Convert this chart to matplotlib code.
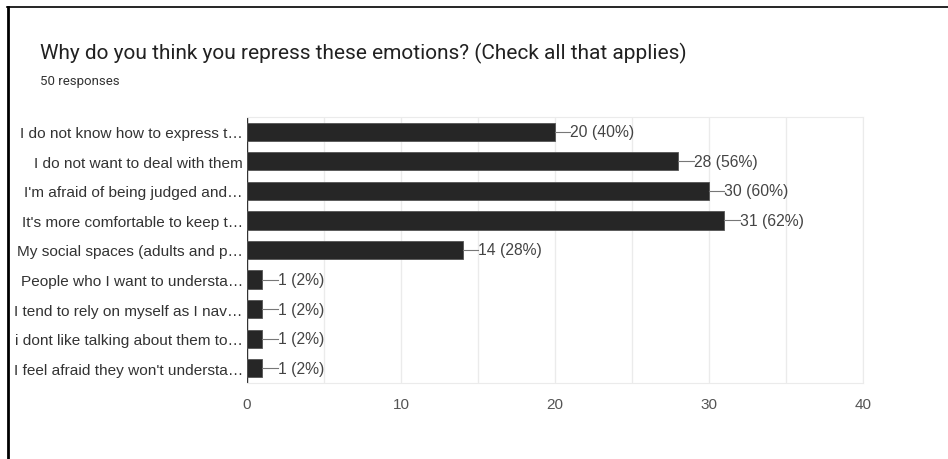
import matplotlib.pyplot as plt
from matplotlib.lines import Line2D

plt.rcParams['font.family'] = ['Liberation Sans', 'DejaVu Sans']

# datos del gráfico
categorias = [
    "I do not know how to express t\u2026",
    "I do not want to deal with them",
    "I'm afraid of being judged and\u2026",
    "It's more comfortable to keep t\u2026",
    "My social spaces (adults and p\u2026",
    "People who I want to understa\u2026",
    "I tend to rely on myself as I nav\u2026",
    "i dont like talking about them to\u2026",
    "I feel afraid they won't understa\u2026",
]
respuestas = [20, 28, 30, 31, 14, 1, 1, 1, 1]
total = 50
xticks = [0, 10, 20, 30, 40]

fig = plt.figure(figsize=(9.48, 4.6), dpi=100)
ax = fig.add_axes([247 / 948, 1 - 384 / 460, (863 - 247) / 948, (384 - 118) / 460])

ypos = list(range(len(categorias)))
ax.barh(ypos, respuestas, height=0.62, color='#262626', edgecolor='#555555', linewidth=0.6, zorder=3)

# etiquetas con guion
for y, v in zip(ypos, respuestas):
    ax.plot([v, v + 1.0], [y, y], color='#777777', lw=0.8, zorder=3, clip_on=False)
    ax.text(v + 1.0, y, f"{v} ({round(v / total * 100)}%)", va='center', ha='left',
            fontsize=11.3, color='#444444')

ax.set_xlim(0, 40)
ax.set_ylim(8.5, -0.5)
ax.set_xticks(xticks)
ax.set_xticks(range(0, 41, 5), minor=True)
ax.set_yticks(ypos)
ax.set_yticklabels(categorias, fontsize=11.1, color='#333333')
ax.tick_params(axis='x', length=0, pad=10, labelsize=11, labelcolor='#555555')
ax.tick_params(axis='y', length=0, pad=3)
ax.tick_params(which='minor', length=0)
ax.grid(axis='x', which='both', color='#ebebeb', lw=1, zorder=0)
for s in ['top', 'right', 'bottom']:
    ax.spines[s].set_color('#ebebeb')
ax.spines['left'].set_visible(False)
ax.add_line(Line2D([247 / 948, 247 / 948], [1 - 388 / 460, 1 - 113 / 460],
                   transform=fig.transFigure, color='#333333', lw=1, figure=fig))

# título
fig.text(40 / 948, 1 - 53 / 460, "Why do you think you repress these emotions? (Check all that applies)",
         fontsize=15, color='#212121', va='center', ha='left', family=['Roboto', 'DejaVu Sans'])
fig.text(40 / 948, 1 - 82 / 460, "50 responses", fontsize=9.5, color='#333333', va='center', ha='left',
         family=['Roboto', 'DejaVu Sans'])

# marco negro
fig.add_artist(Line2D([7.5 / 948, 7.5 / 948], [0, 1 - 8 / 460], transform=fig.transFigure, color='black', lw=2))
fig.add_artist(Line2D([7 / 948, 1], [1 - 8 / 460, 1 - 8 / 460], transform=fig.transFigure, color='black', lw=1.2))

fig.savefig('out.png', dpi=100)
